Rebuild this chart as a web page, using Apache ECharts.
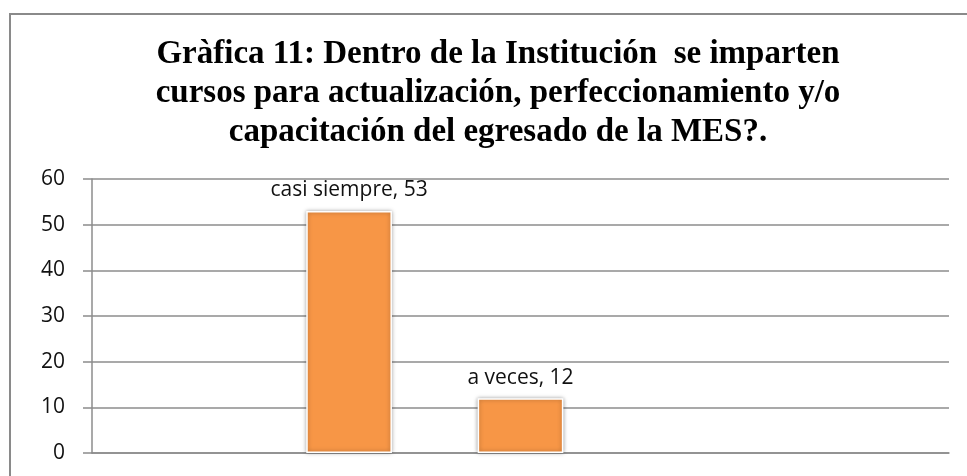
<!DOCTYPE html>
<html>
<head>
<meta charset="utf-8">
<script src="https://cdn.jsdelivr.net/npm/echarts@6/dist/echarts.min.js"></script>
<style>
  html, body { margin: 0; padding: 0; background: #fff; }
  #chart { width: 967px; height: 476px; }
</style>
</head>
<body>
<div id="chart"></div>
<script>
// datos de la gráfica
var categorias = ['siempre', 'casi siempre', 'a veces', 'casi nunca', 'nunca'];
var valores = [null, 53, 12, null, null];
var ticksY = [0, 10, 20, 30, 40, 50, 60];

var chart = echarts.init(document.getElementById('chart'));

var option = {
    // borde del área del gráfico
    graphic: [{
        type: 'rect',
        shape: { x: 10, y: 14, width: 1000, height: 500 },
        style: { fill: 'none', stroke: '#8a8a8a', lineWidth: 2 },
        silent: true
    }],
    title: {
        text: 'Gràfica 11: Dentro de la Institución  se imparten\ncursos para actualización, perfeccionamiento y/o\ncapacitación del egresado de la MES?.',
        left: 493,
        textAlign: 'center',
        top: 30,
        textStyle: {
            fontFamily: 'Liberation Serif',
            fontWeight: 'bold',
            fontSize: 33,
            lineHeight: 39,
            color: '#000'
        }
    },
    grid: {
        left: 92,
        right: 18,
        top: 179,
        bottom: 23
    },
    xAxis: {
        type: 'category',
        data: categorias,
        axisLine: { lineStyle: { color: '#8c8c8c', width: 1.5 } },
        axisTick: { show: false },
        axisLabel: { show: false }
    },
    yAxis: {
        type: 'value',
        min: ticksY[0],
        max: ticksY[ticksY.length - 1],
        interval: 10,
        axisLine: { show: true, lineStyle: { color: '#8c8c8c', width: 1.5 } },
        axisTick: { show: true, length: 9, lineStyle: { color: '#8c8c8c', width: 1.5 } },
        splitLine: { lineStyle: { color: '#8c8c8c', width: 1.5 } },
        axisLabel: {
            margin: 27,
            fontFamily: 'Open Sans',
            fontSize: 21,
            color: '#111'
        }
    },
    series: [{
        type: 'bar',
        data: valores,
        barWidth: '50%',
        itemStyle: {
            color: '#F79646',
            borderColor: '#fff',
            borderWidth: 1.5,
            shadowBlur: 4,
            shadowColor: 'rgba(0,0,0,0.35)'
        },
        label: {
            show: true,
            position: 'top',
            distance: 10,
            formatter: '{b}, {c}',
            fontFamily: 'Open Sans',
            fontSize: 21,
            color: '#111'
        }
    }]
};

chart.setOption(option);
</script>
</body>
</html>
